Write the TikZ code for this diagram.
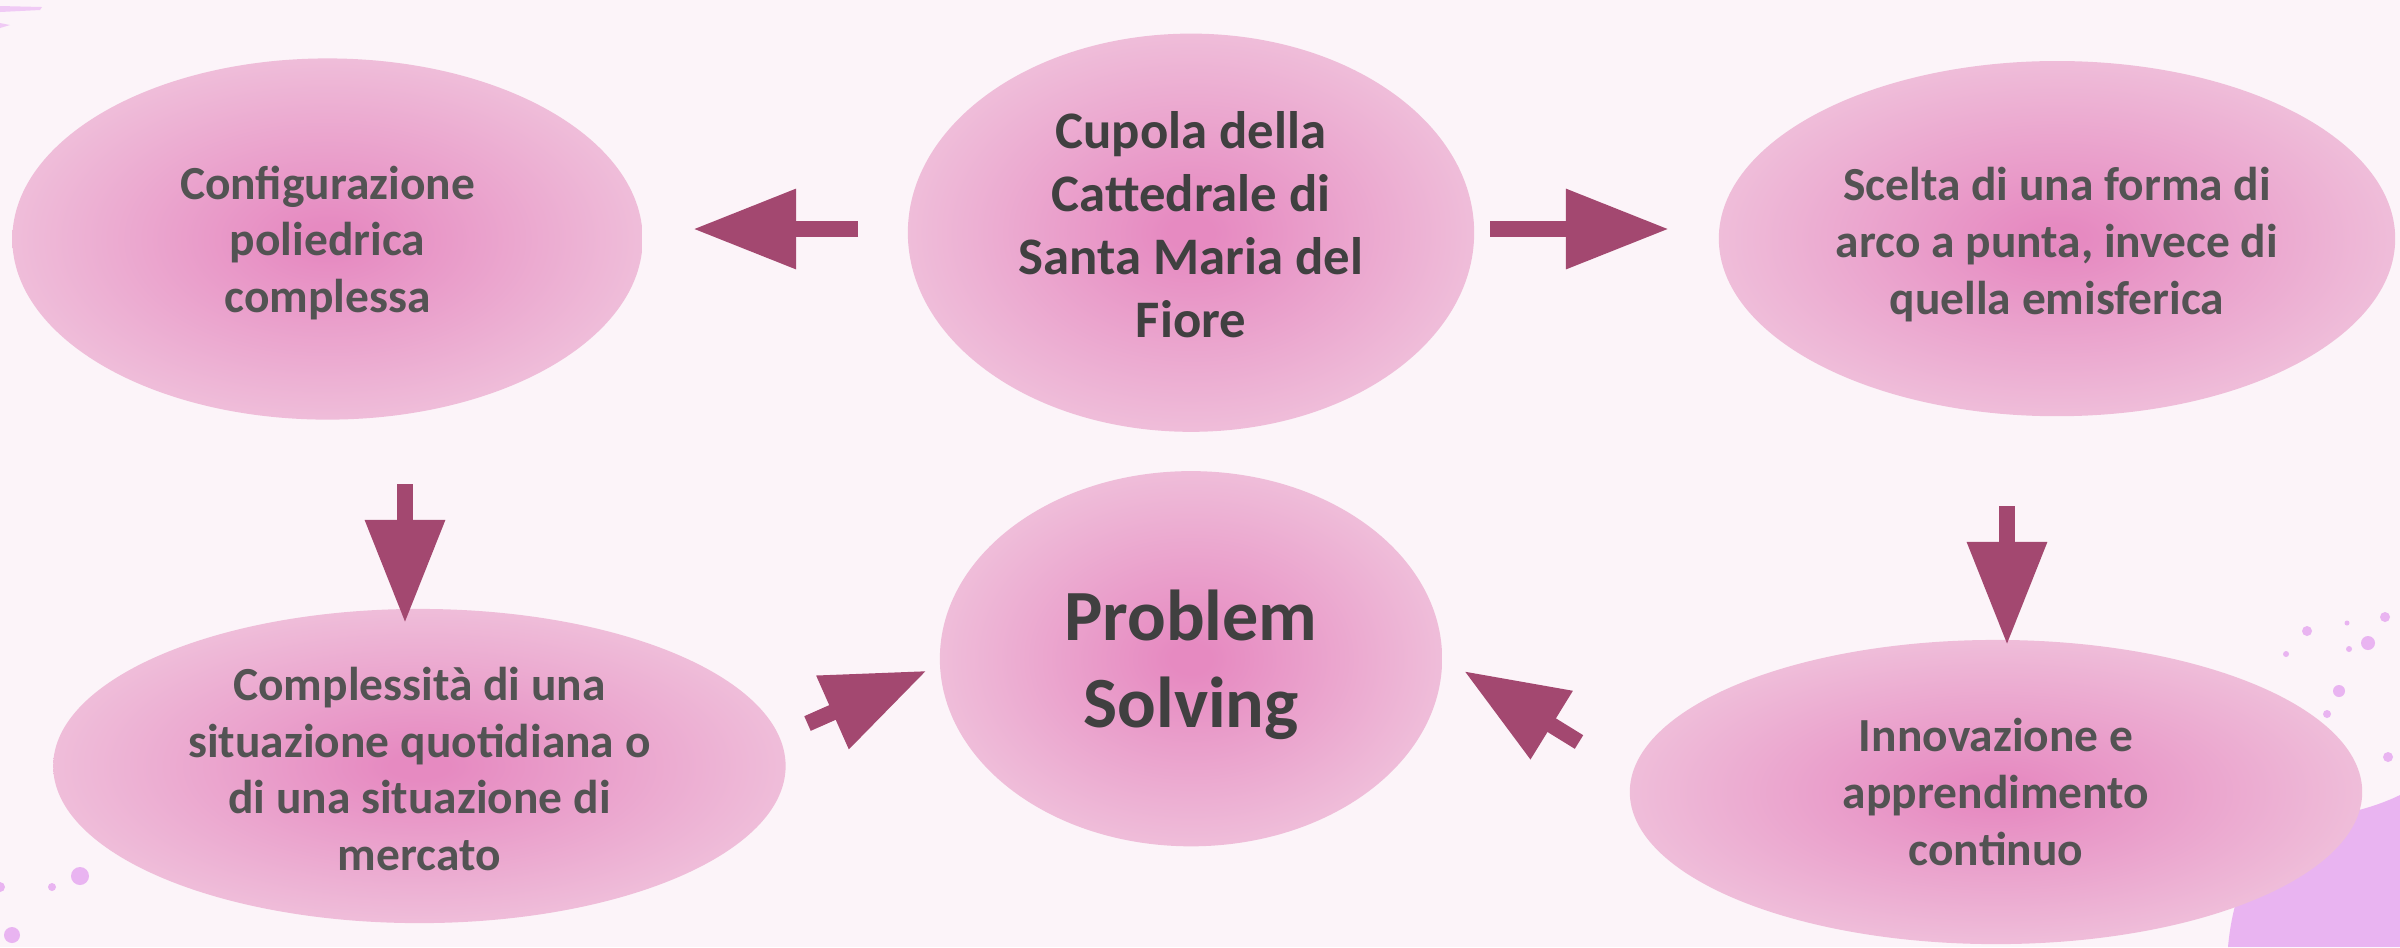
\documentclass[tikz,border=0pt]{standalone}
\usepackage{fontspec}
\setmainfont{Carlito}
\usetikzlibrary{shapes.geometric,arrows.meta}
\definecolor{bgc}{HTML}{FCF4F9}
\definecolor{pc}{HTML}{E68AC1}
\definecolor{pm}{HTML}{EDB2D4}
\definecolor{pe}{HTML}{F3D3E4}
\definecolor{arrc}{HTML}{A34870}
\definecolor{txt}{HTML}{535353}
\definecolor{txtd}{HTML}{404040}
\definecolor{splash}{HTML}{E9B4F1}
\pgfdeclareradialshading{pinkglow}{\pgfpoint{0bp}{0bp}}{color(0bp)=(pc); color(2bp)=(pc); color(20bp)=(pm); color(35bp)=(pe); color(100bp)=(pe)}
\tikzset{
  blob/.style={ellipse, shading=pinkglow, inner sep=0pt},
  lbl/.style={align=center, inner sep=0pt, font=\bfseries\fontsize{13.5}{16.2}\selectfont, text=txt},
  bigtxt/.style={font=\bfseries\fontsize{15}{18}\selectfont, text=txtd},
  hugetxt/.style={font=\bfseries\fontsize{20.5}{24.8}\selectfont, text=txtd},
  barrow/.style={arrc, line width=0.16cm, -{Triangle[length=1.03cm,width=0.76cm]}},
  dot/.style={fill=splash}
}
\begin{document}
\begin{tikzpicture}[x=0.01cm,y=-0.01cm]
\useasboundingbox (0,0) rectangle (2400,947);
\fill[bgc] (0,0) rectangle (2400,947);
% decorations
\fill[splash] (2228,947) .. controls (2232,900) and (2250,850) .. (2275,835) .. controls (2300,822) and (2330,826) .. (2350,812) .. controls (2370,808) and (2390,800) .. (2400,795) -- (2400,947) -- cycle;
\fill[splash!70] (0,6) -- (42,7) -- (40,10) -- (0,12) -- cycle;
\fill[splash!70] (0,23) -- (10,25) -- (0,28) -- cycle;
\fill[dot] (80,876) circle (9);
\fill[dot] (52,887) circle (4);
\fill[dot] (0,887) circle (5);
\fill[dot] (12,935) circle (8);
\fill[dot] (2307,631) circle (5);
\fill[dot] (2368,643) circle (7);
\fill[dot] (2339,691) circle (6);
\fill[dot] (2385,617) circle (5);
\fill[dot] (2388,757) circle (5);
\fill[dot] (2327,714) circle (4);
\fill[dot] (2347,623) circle (2.5);
\fill[dot] (2349,649) circle (3);
\fill[dot] (2286,654) circle (3);
% ellipses
\node[blob, minimum width=6.30cm, minimum height=3.61cm] (config) at (327.5,239) {};
\node[blob, minimum width=5.66cm, minimum height=3.98cm] (cupola) at (1191,232.7) {};
\node[blob, minimum width=6.76cm, minimum height=3.55cm] (scelta) at (2057,238.6) {};
\node[blob, minimum width=5.02cm, minimum height=3.75cm] (ps) at (1191,658.7) {};
\node[blob, minimum width=7.32cm, minimum height=3.14cm] (compl) at (419.4,766) {};
\node[blob, minimum width=7.32cm, minimum height=3.04cm] (innov) at (1996,792) {};
% texts
\node[lbl] (configT) at ([shift={(0,4)}]config.center) {Configurazione\\poliedrica\\complessa};
\node[lbl, bigtxt] (cupolaT) at ([shift={(0,-8)}]cupola.center) {Cupola della\\Cattedrale di\\Santa Maria del\\Fiore};
\node[lbl] (sceltaT) at ([shift={(0,6)}]scelta.center) {Scelta di una forma di\\arco a punta, invece di\\quella emisferica};
\node[lbl, hugetxt] (psT) at ([shift={(0,6)}]ps.center) {Problem\\Solving};
\node[lbl] (complT) at ([shift={(0,3)}]compl.center) {Complessità di una\\situazione quotidiana o\\di una situazione di\\mercato};
\node[lbl] (innovT) at (innov.center) {Innovazione e\\apprendimento\\continuo};
% connector end points
\coordinate (t1) at (858,229); \coordinate (h1) at (693,229);
\coordinate (t2) at (1490,229); \coordinate (h2) at (1669,229);
\coordinate (t3) at (405,484); \coordinate (h3) at (405,623);
\coordinate (t4) at (2007,506); \coordinate (h4) at (2007,645);
\coordinate (t5) at (807.5,723.5); \coordinate (h5) at (926.7,670.7);
\coordinate (t6) at (1579,742); \coordinate (h6) at (1464,671);
\draw[barrow] (t1) -- (h1);
\draw[barrow] (t2) -- (h2);
\draw[barrow] (t3) -- (h3);
\draw[barrow] (t4) -- (h4);
\draw[barrow] (t5) -- (h5);
\draw[barrow] (t6) -- (h6);
\end{tikzpicture}
\end{document}
